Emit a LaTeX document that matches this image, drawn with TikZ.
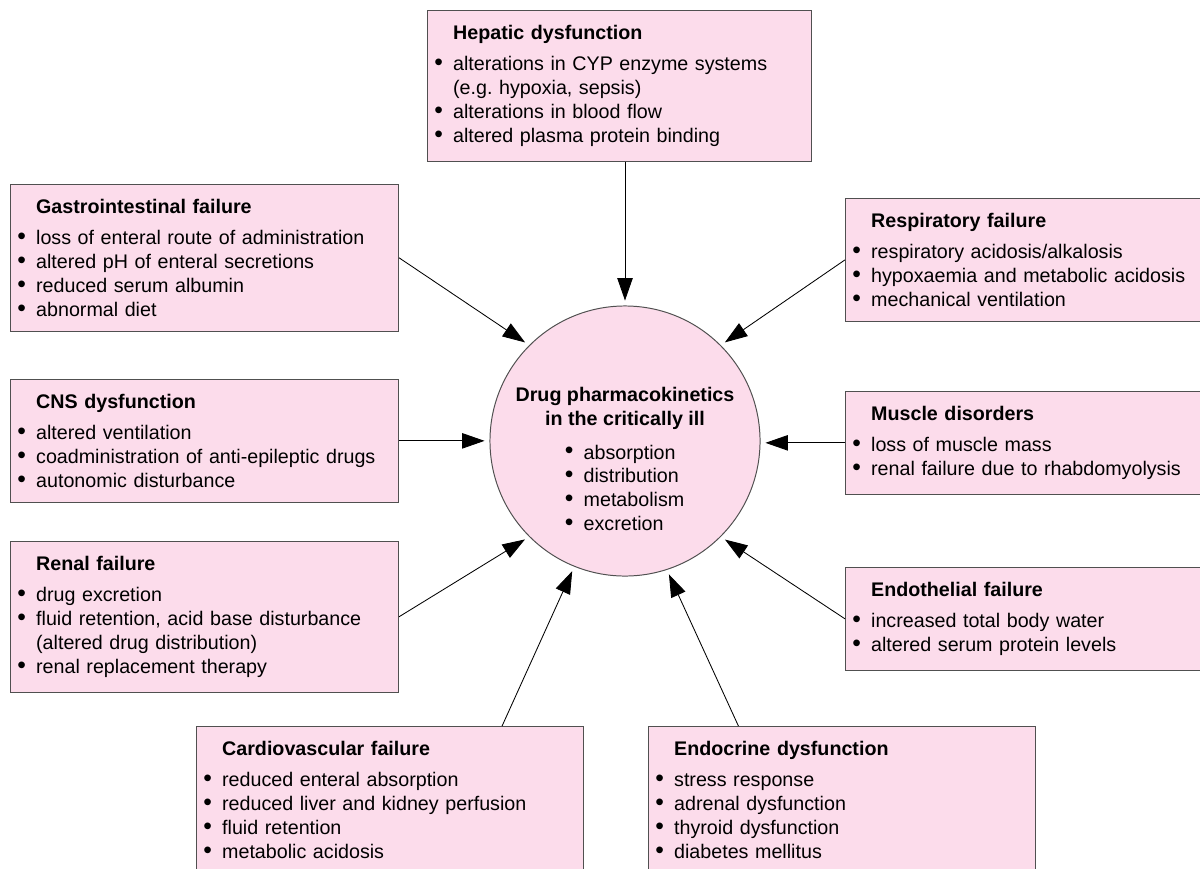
\documentclass[tikz,border=0pt]{standalone}
\usepackage{fontspec}
\setmainfont{Liberation Sans}
\usetikzlibrary{arrows.meta}
\definecolor{boxpink}{RGB}{252,220,235}
\definecolor{boxline}{RGB}{80,80,80}
\newcommand{\itm}{\makebox[1.05em][l]{\hspace{0.1em}\raisebox{0.02em}{\scalebox{1.25}{\textbullet}}}}
\newcommand{\cont}{\hspace*{1.05em}}
\newcommand{\hd}[1]{\hspace*{1.05em}\textbf{#1}\\[5.5pt]}
\begin{document}
\begin{tikzpicture}[x=0.025cm, y=-0.025cm,
    box/.style={draw=boxline, fill=boxpink, line width=0.7pt, anchor=north west, align=left,
        inner xsep=0.125cm, inner ysep=0.36cm, font=\fontsize{14}{17}\selectfont},
    feed/.style={-{Triangle[length=16pt,width=11pt]}, line width=0.6pt, shorten >=3.5pt}]
        \clip (0,0) rectangle (1200,868);
        \node [box, text width=9.35cm] (hep) at (427,10) {\hd{Hepatic dysfunction}\itm alterations in CYP enzyme systems\\ \cont(e.g.\ hypoxia, sepsis)\\ \itm alterations in blood flow\\ \itm altered plasma protein binding};
        \node [box, text width=9.45cm] (gi) at (10,184) {\hd{Gastrointestinal failure}\itm loss of enteral route of administration\\ \itm altered pH of enteral secretions\\ \itm reduced serum albumin\\ \itm abnormal diet};
        \node [box, text width=9.45cm] (cns) at (10,379) {\hd{CNS dysfunction}\itm altered ventilation\\ \itm coadministration of anti-epileptic drugs\\ \itm autonomic disturbance};
        \node [box, text width=9.45cm] (ren) at (10,541) {\hd{Renal failure}\itm drug excretion\\ \itm fluid retention, acid base disturbance\\ \cont(altered drug distribution)\\ \itm renal replacement therapy};
        \node [box, text width=9.45cm] (resp) at (845,198) {\hd{Respiratory failure}\itm respiratory acidosis/alkalosis\\ \itm hypoxaemia and metabolic acidosis\\ \itm mechanical ventilation};
        \node [box, text width=9.45cm] (mus) at (845,391) {\hd{Muscle disorders}\itm loss of muscle mass\\ \itm renal failure due to rhabdomyolysis};
        \node [box, text width=9.45cm] (endt) at (845,567) {\hd{Endothelial failure}\itm increased total body water\\ \itm altered serum protein levels};
        \node [box, text width=9.425cm] (cv) at (196,726) {\hd{Cardiovascular failure}\itm reduced enteral absorption\\ \itm reduced liver and kidney perfusion\\ \itm fluid retention\\ \itm metabolic acidosis};
        \node [box, text width=9.425cm] (ecr) at (648,726) {\hd{Endocrine dysfunction}\itm stress response\\ \itm adrenal dysfunction\\ \itm thyroid dysfunction\\ \itm diabetes mellitus};
        \node [circle, draw=boxline, fill=boxpink, line width=0.7pt, minimum size=6.75cm, inner sep=0pt] (dr) at (625,441) {};
        \node [align=center, font=\fontsize{14}{17}\selectfont] (drtxt) at (625,459) {\textbf{Drug pharmacokinetics}\\ \textbf{in the critically ill}\\[7pt]
            \makebox[3.1cm][l]{\itm absorption}\\ \makebox[3.1cm][l]{\itm distribution}\\ \makebox[3.1cm][l]{\itm metabolism}\\ \makebox[3.1cm][l]{\itm excretion}};
        \draw[feed] (hep.south -| dr.north) -- (dr.north);
        \draw[feed] (gi.east) -- (dr.135);
        \draw[feed] (resp.west) -- (dr.45);
        \draw[feed] (cns.east) -- (dr.west |- cns.east);
        \draw[feed] (mus.west) -- (dr.east |- mus.west);
        \draw[feed] (ren.east) -- (dr.225);
        \draw[feed] (endt.west) -- (dr.-45);
        \draw[feed] ([xshift=2.8cm]cv.north) -- (dr.248);
        \draw[feed] ([xshift=-2.59cm]ecr.north) -- (dr.288);
    \end{tikzpicture}
\end{document}
